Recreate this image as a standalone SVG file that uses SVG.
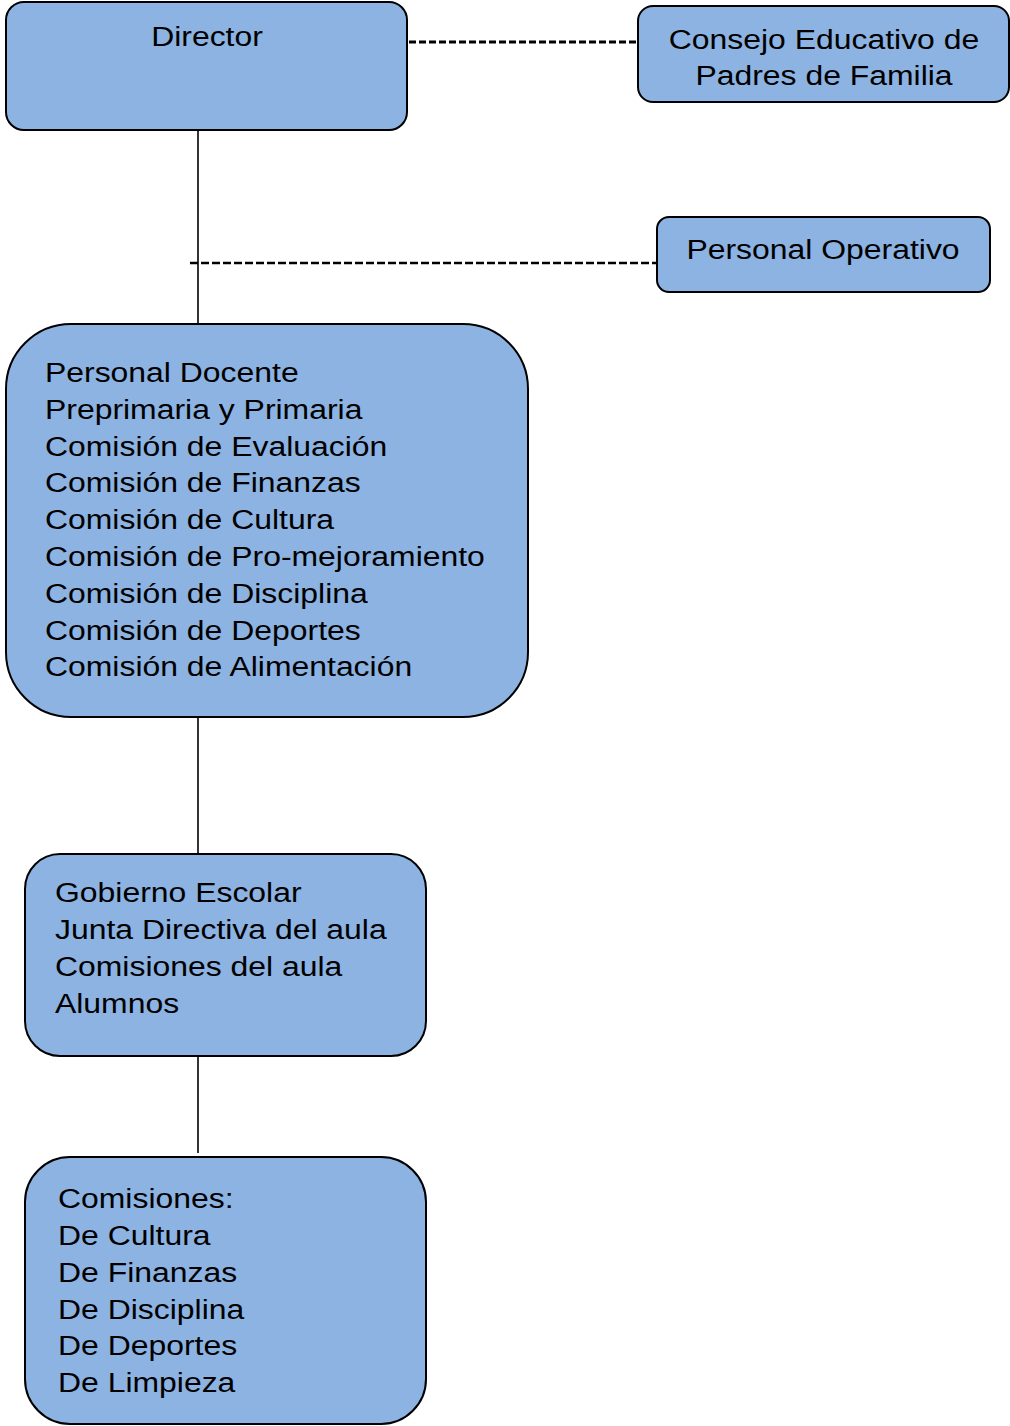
<svg xmlns="http://www.w3.org/2000/svg" width="1010" height="1426" viewBox="0 0 1010 1426">
<style>
.box{fill:#8DB3E2;stroke:#000;stroke-width:2}
.t{font-family:"Liberation Sans",Arial,sans-serif;font-size:28px;fill:#000}
.c{text-anchor:middle}
.solid{stroke:#000;stroke-width:1.6;fill:none}
.dash1{stroke:#000;stroke-width:3.2;stroke-dasharray:7 3;fill:none}
.dash2{stroke:#000;stroke-width:2.4;stroke-dasharray:8 3;fill:none}
</style>
<rect width="1010" height="1426" fill="#fff"/>
<g id="connectors">
<line class="solid" x1="198" y1="130" x2="198" y2="324"/>
<line class="dash1" x1="409" y1="42" x2="637" y2="42"/>
<line class="dash2" x1="190" y1="263" x2="656" y2="263"/>
<line class="solid" x1="198" y1="717" x2="198" y2="854"/>
<line class="solid" x1="198" y1="1056" x2="198" y2="1153"/>
</g>
<g id="director">
<rect class="box" x="6" y="2" width="401" height="128" rx="18"/>
<text class="t c" transform="translate(207 46) scale(1.14 1)">Director</text>
</g>
<g id="consejo">
<rect class="box" x="638" y="6" width="371" height="96" rx="15"/>
<text class="t c" transform="translate(824 49) scale(1.14 1)"><tspan x="0" y="0">Consejo Educativo de</tspan><tspan x="0" y="36">Padres de Familia</tspan></text>
</g>
<g id="operativo">
<rect class="box" x="657" y="217" width="333" height="75" rx="12"/>
<text class="t c" transform="translate(823 259) scale(1.14 1)">Personal Operativo</text>
</g>
<g id="docente">
<rect class="box" x="6" y="324" width="522" height="393" rx="65"/>
<text class="t" transform="translate(45 382) scale(1.14 1)"><tspan x="0" y="0">Personal Docente</tspan><tspan x="0" y="36.8">Preprimaria y Primaria</tspan><tspan x="0" y="73.6">Comisión de Evaluación</tspan><tspan x="0" y="110.4">Comisión de Finanzas</tspan><tspan x="0" y="147.2">Comisión de Cultura</tspan><tspan x="0" y="184">Comisión de Pro-mejoramiento</tspan><tspan x="0" y="220.8">Comisión de Disciplina</tspan><tspan x="0" y="257.6">Comisión de Deportes</tspan><tspan x="0" y="294.4">Comisión de Alimentación</tspan></text>
</g>
<g id="gobierno">
<rect class="box" x="25" y="854" width="401" height="202" rx="35"/>
<text class="t" transform="translate(55 902) scale(1.14 1)"><tspan x="0" y="0">Gobierno Escolar</tspan><tspan x="0" y="37">Junta Directiva del aula</tspan><tspan x="0" y="74">Comisiones del aula</tspan><tspan x="0" y="111">Alumnos</tspan></text>
</g>
<g id="comisiones">
<rect class="box" x="25" y="1157" width="401" height="267" rx="45"/>
<text class="t" transform="translate(58 1208) scale(1.14 1)"><tspan x="0" y="0">Comisiones:</tspan><tspan x="0" y="37">De Cultura</tspan><tspan x="0" y="74">De Finanzas</tspan><tspan x="0" y="111">De Disciplina</tspan><tspan x="0" y="147">De Deportes</tspan><tspan x="0" y="184">De Limpieza</tspan></text>
</g>
</svg>
